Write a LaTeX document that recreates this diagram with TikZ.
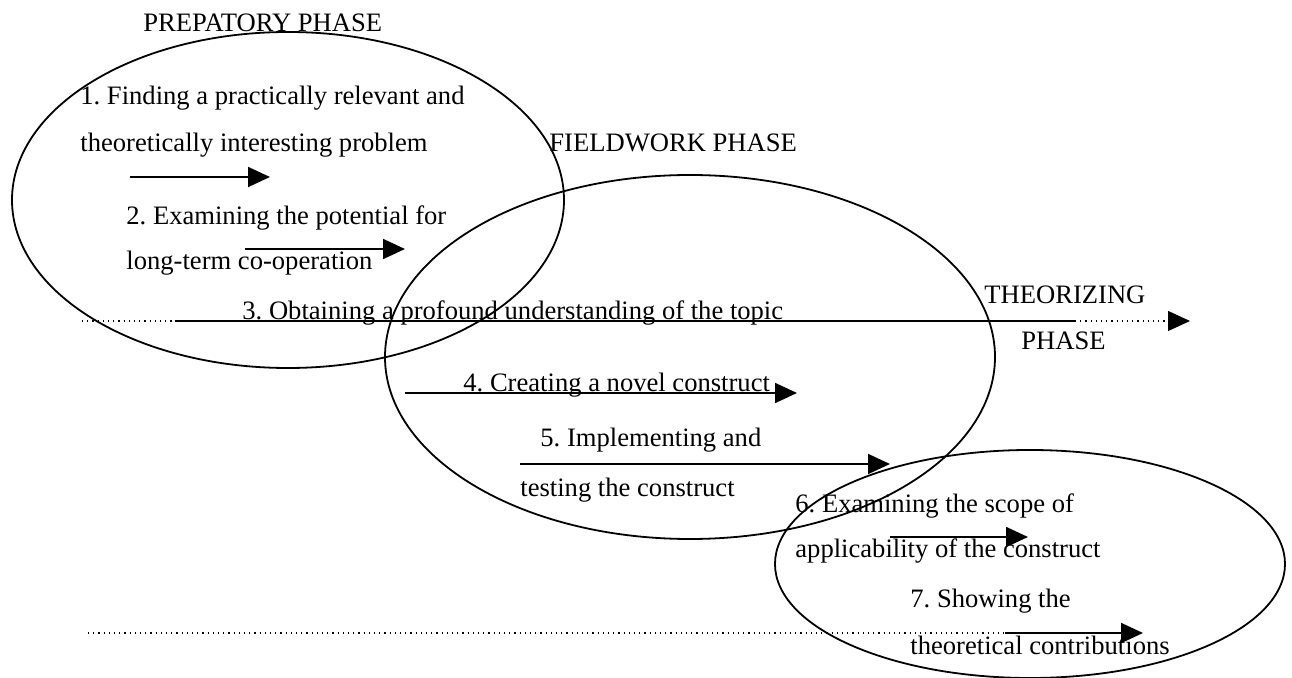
\documentclass[tikz,border=0pt]{standalone}
\usepackage{fontspec}
\setmainfont{Liberation Serif}
\usetikzlibrary{arrows.meta}
\frenchspacing
\begin{document}
\begin{tikzpicture}[x=0.5pt,y=-0.5pt,
  lbl/.style={anchor=base west,inner sep=0pt,font=\fontsize{13.3}{15}\selectfont},
  phase/.style={draw,line width=0.9pt},
  head/.style={-{Triangle[length=11pt,width=10pt]}},
  flow/.style={line width=0.9pt,head},
  dots/.style={dotted,line width=0.6pt}]
\useasboundingbox (0,0) rectangle (1292,678);

% the three phase ellipses
\draw[phase] (288,200) ellipse [x radius=276, y radius=168];
\draw[phase] (690,357) ellipse [x radius=305, y radius=182];
\draw[phase] (1030,564) ellipse [x radius=255, y radius=114];

% phase titles
\node[lbl] (prep) at (143,32) {PREPATORY PHASE};
\node[lbl] (field) at (549,152) {FIELDWORK PHASE};
\node[lbl] (theo1) at (984,304) {THEORIZING};
\node[lbl] (theo2) at (1021,350) {PHASE};

% steps
\node[lbl] (s1a) at (80,105) {1. Finding a practically relevant and};
\node[lbl] (s1b) at (80,152) {theoretically interesting problem};
\node[lbl] (s2a) at (126,225) {2. Examining the potential for};
\node[lbl] (s2b) at (126,270) {long-term co-operation};
\node[lbl] (s3) at (242,320) {3. Obtaining a profound understanding of the topic};
\node[lbl] (s4) at (463,392) {4. Creating a novel construct};
\node[lbl] (s5a) at (540,447) {5. Implementing and};
\node[lbl] (s5b) at (520,497) {testing the construct};
\node[lbl] (s6a) at (795,513) {6. Examining the scope of};
\node[lbl] (s6b) at (795,558) {applicability of the construct};
\node[lbl] (s7a) at (910,608) {7. Showing the};
\node[lbl] (s7b) at (910,655) {theoretical contributions};

% arrow end points
\coordinate (a1s) at (130,177); \coordinate (a1e) at (270,177);
\coordinate (a2s) at (245,249); \coordinate (a2e) at (405,249);
\coordinate (a3d) at (82,321);  \coordinate (a3s) at (175,321);
\coordinate (a3m) at (1075,321); \coordinate (a3e) at (1190,321);
\coordinate (a4s) at (405,393); \coordinate (a4e) at (797,393);
\coordinate (a5s) at (520,464); \coordinate (a5e) at (890,464);
\coordinate (a6s) at (890,537); \coordinate (a6e) at (1028,537);
\coordinate (a7d) at (88,633);  \coordinate (a7s) at (1005,633);
\coordinate (a7e) at (1143,633);

\draw[flow] (a1s) -- (a1e);
\draw[flow] (a2s) -- (a2e);
\draw[dots] (a3d) -- (a3s);
\draw[line width=0.9pt] (a3s) -- (a3m);
\draw[dots,head] (a3m) -- (a3e);
\draw[flow] (a4s) -- (a4e);
\draw[flow] (a5s) -- (a5e);
\draw[flow] (a6s) -- (a6e);
\draw[dots] (a7d) -- (a7s);
\draw[flow] (a7s) -- (a7e);
\end{tikzpicture}
\end{document}
